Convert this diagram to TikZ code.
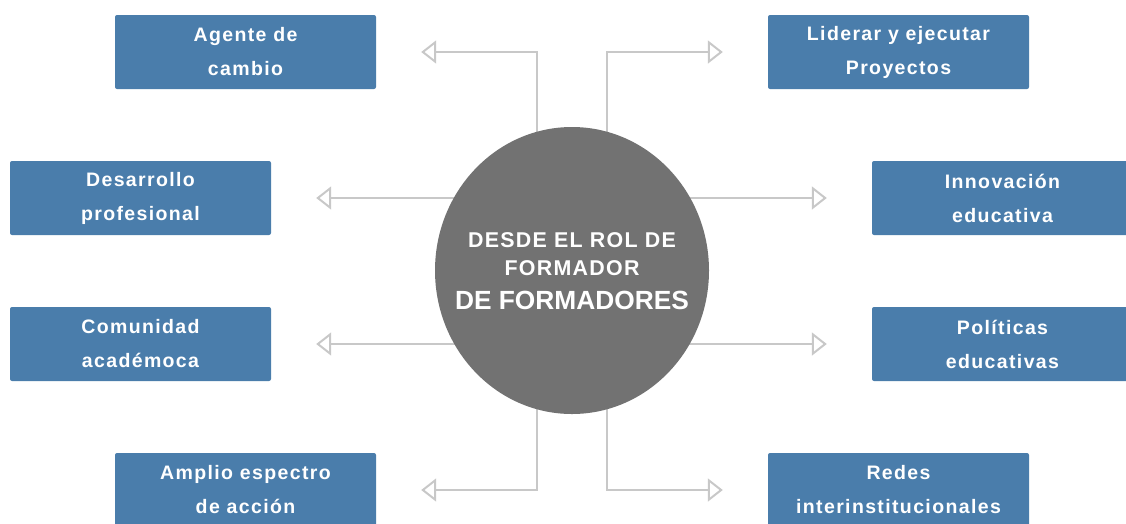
\documentclass[tikz,border=0pt]{standalone}
\usepackage{fontspec}
\newfontfamily\boxfont[LetterSpace=7]{Liberation Sans}
\newfontfamily\rolfont[LetterSpace=6]{Liberation Sans}
\newfontfamily\rolbigfont{Liberation Sans}
\usetikzlibrary{shapes}
\usetikzlibrary{positioning}
\usetikzlibrary{arrows.meta}
\usetikzlibrary{backgrounds}
\definecolor{boxblue}{HTML}{4A7DAB}
\definecolor{rolgray}{HTML}{727272}
\definecolor{linegray}{HTML}{C8C8C8}
\tikzset{
    mybox/.style = {rectangle, rounded corners=2pt, fill=boxblue, text=white, minimum width=261pt, minimum height=74pt, align=center, font=\boxfont\bfseries\fontsize{19.5}{34}\selectfont},
    myrol/.style = {ellipse, fill=rolgray, minimum width=274pt, minimum height=287pt, inner sep=0pt},
    myrolt/.style = {text=white, inner sep=0pt, align=center, font=\rolfont\bfseries\fontsize{21.4}{28}\selectfont},
    edgeg/.style = {-{Triangle[open,length=15pt,width=23pt]}, line width=2pt, linegray, shorten >=45pt},
}
\begin{document}
\begin{tikzpicture}[x=1pt, y=-1pt]
%
\useasboundingbox (0, 0) rectangle (1126, 523);
%
\node[myrol] at (572, 270.5) (rol) {};
\node[myrolt] at (572, 271) (rolt) {DESDE EL ROL DE\\ FORMADOR\\[6pt] {\rolbigfont\bfseries\fontsize{26.3}{30}\selectfont DE FORMADORES}};
%
\node[mybox] at (245.5, 52) (agente) {Agente de\\ cambio};
\node[mybox] at (898.5, 52) (liderar) {Liderar y ejecutar\\ Proyectos};
\node[mybox] at (140.5, 198) (desarrollo) {Desarrollo\\ profesional};
\node[mybox] at (1002.5, 198) (innovacion) {Innovación\\ educativa};
\node[mybox] at (140.5, 344) (comunidad) {Comunidad\\ académoca};
\node[mybox] at (1002.5, 344) (politicas) {Políticas\\ educativas};
\node[mybox] at (245.5, 490) (amplio) {Amplio espectro\\ de acción};
\node[mybox] at (898.5, 490) (redes) {Redes\\ interinstitucionales};
%
\begin{scope}[on background layer]
\draw[edgeg] ([xshift=-35pt]rol.center) |- (agente);
\draw[edgeg] ([xshift=35pt]rol.center) |- (liderar);
\draw[edgeg] (rol.center |- desarrollo) -- (desarrollo);
\draw[edgeg] (rol.center |- innovacion) -- (innovacion);
\draw[edgeg] (rol.center |- comunidad) -- (comunidad);
\draw[edgeg] (rol.center |- politicas) -- (politicas);
\draw[edgeg] ([xshift=-35pt]rol.center) |- (amplio);
\draw[edgeg] ([xshift=35pt]rol.center) |- (redes);
\end{scope}

\end{tikzpicture}
\end{document}
